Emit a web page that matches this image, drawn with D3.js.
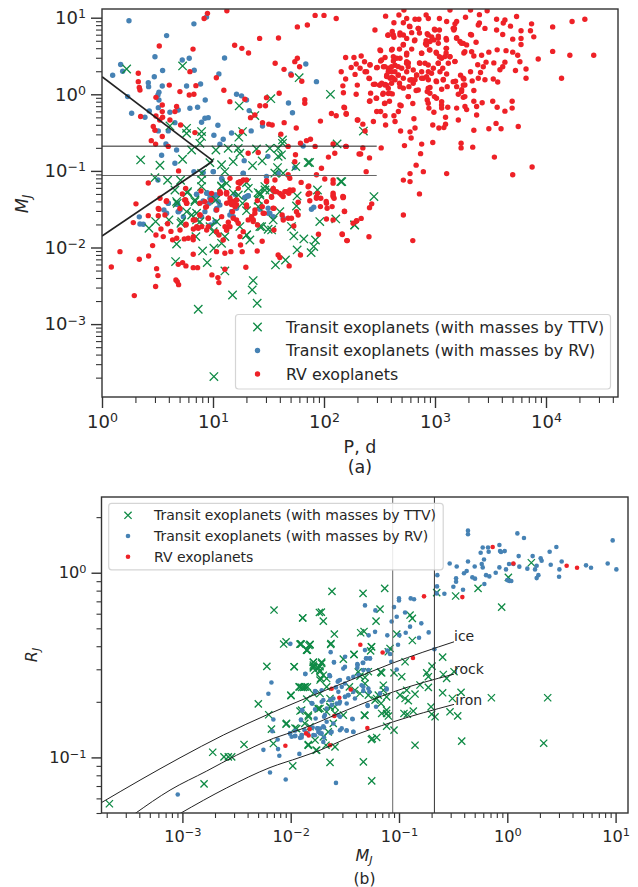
<!DOCTYPE html>
<html>
<head>
<meta charset="utf-8">
<script src="https://cdn.jsdelivr.net/npm/d3@7"></script>
<style>
  html, body { margin: 0; padding: 0; background: #fff; }
  text { font-family: "DejaVu Sans", sans-serif; fill: #262626; }
</style>
</head>
<body>
<svg id="chart" width="638" height="887"></svg>
<script>
// all planet values are [log10 x, log10 y]
const legendLabels = ['Transit exoplanets (with masses by TTV)', 'Transit exoplanets (with masses by RV)', 'RV exoplanets'];
const periodDecades = [0, 1, 2, 3, 4];
const massDecades = [-3, -2, -1, 0, 1];
const radiusDecades = [-1, 0];

// panel (a): period vs mass
const rvPeriodMass = [
[2.555,1.02],[2.675,1.035],[2.72,1.10],[2.745,.99],[2.82,.98],[2.855,.98],[2.92,1.035],[2.94,.99],[3.04,.99],[3.135,1.10],[3.32,1.10],[3.47,1.09],[3.40,1.04],[3.275,1.005],[3.555,.98],[3.63,.97],[3.735,1.015],[4.235,.95],[4.35,.98],[4.06,.88],[3.87,.92],[3.68,.89],[3.615,.93],[3.555,.84],[3.86,.83],[3.775,.83],[3.89,.75],[3.61,.78],[3.775,.73],[3.775,.65],[3.70,.72],[3.45,.86],[3.40,.93],[3.32,.78],[3.37,.68],[3.195,.95],[3.175,.86],[3.105,.95],[3.04,.84],[2.995,.85],[2.93,.79],[2.86,.80],[2.79,.805],[2.715,.935],[2.63,.935],[2.77,.89],[2.85,.86],[2.685,.80],[2.615,.82],[2.575,.77],[2.63,.745],[2.715,.775],[2.815,.70],[2.915,.66],[2.715,.65],[2.615,.59],[2.51,.57],[2.68,.59],[2.79,.59],[2.745,.535],[2.88,.535],[2.95,.58],[3.01,.55],[3.10,.60],[2.99,.71],[3.03,.665],[3.10,.54],[3.195,.74],[3.255,.665],[3.285,.645],[3.26,.54],[3.33,.555],[3.42,.51],[3.485,.55],[3.56,.58],[3.64,.57],[3.70,.55],[3.745,.51],[3.93,.46],[4.06,.56],[4.215,.51],[4.43,.51],[4.14,.21],[3.82,.33],[3.82,.21],[3.725,.31],[3.765,.425],[3.63,.42],[3.53,.41],[3.46,.42],[3.385,.385],[3.435,.36],[3.35,.50],[3.18,.43],[3.135,.49],[3.04,.49],[3.12,.405],[3.07,.34],[3.03,.405],[2.985,.34],[2.91,.405],[2.86,.41],[2.76,.41],[2.685,.47],[2.625,.49],[2.55,.48],[2.51,.435],[2.48,.35],[2.415,.385],[2.365,.425],[2.335,.50],[2.27,.48],[2.195,.48],[2.29,.395],[2.245,.35],[2.325,.34],[2.37,.295],[2.28,.26],[2.155,.295],[2.195,.20],[2.41,.205],[2.30,.12],[2.17,.11],[2.175,.02],[2.29,0],[2.42,.015],[2.445,.13],[2.50,.12],[2.55,.13],[2.53,0],[2.58,.01],[2.615,.005],[2.59,-.09],[2.545,-.12],[2.47,-.05],[2.41,-.09],[2.185,-.175],[2.20,-.26],[2.305,-.335],[2.35,-.39],[2.445,-.355],[2.475,-.225],[2.51,-.225],[2.55,-.28],[2.64,-.355],[2.555,-.40],[2.63,-.28],[2.67,-.225],[2.695,-.15],[2.81,-.32],[2.69,-.48],[2.775,-.49],[2.82,-.44],[2.785,-.57],[2.725,-.67],[2.88,-.65],[2.98,-.63],[2.98,-.40],[3.035,-.44],[3.08,-.435],[3.095,-.39],[3.095,-.30],[3.21,-.335],[3.375,-.27],[3.35,-.47],[3.485,-.45],[3.55,-.38],[3.595,-.45],[3.75,-.42],[3.695,-.09],[3.695,-.18],[3.63,-.22],[3.56,-.17],[3.52,-.09],[3.425,-.11],[3.375,-.16],[3.35,-.09],[3.27,-.16],[3.285,-.20],[3.195,-.18],[3.115,-.17],[3.06,-.18],[2.99,-.235],[2.945,-.18],[2.93,-.075],[2.995,-.03],[3.06,-.095],[2.80,-.12],[2.76,-.03],[3.24,.06],[3.255,-.04],[3.21,0],[3.35,.05],[3.195,.10],[3.185,.17],[3.255,.12],[3.26,.20],[3.23,.25],[3.335,.175],[3.32,.295],[3.41,.285],[3.39,.21],[3.45,.19],[3.525,.20],[3.565,.16],[3.585,.32],[3.61,.36],[3.11,.10],[3.06,.065],[2.955,.09],[2.93,.035],[2.83,.05],[2.765,.10],[2.715,.08],[2.68,.145],[2.82,.19],[2.895,.21],[2.94,.19],[3.01,.175],[3.075,.195],[3.105,.265],[3.045,.295],[2.94,.295],[2.88,.295],[2.835,.25],[2.79,.19],[2.535,.36],[2.58,.34],[2.64,.38],[2.70,.34],[2.565,.25],[2.61,.295],[2.67,.25],[2.745,.295],[2.595,.21],[2.64,.19],[2.715,.21],[2.52,.145],[2.565,.12],[2.61,.22],[2.625,.435],[2.745,.425],[2.515,-.70],[2.41,-.83],[2.33,-.78],[2.35,-.70],[2.20,-.68],[2.37,-.48],[2.38,-1.01],[2.175,-1.34],[2.41,-1.48],[2.43,-1.43],[2.185,-1.53],[2.335,-1.62],[2.295,-1.65],[2.165,-1.83],[2.21,-1.91],[2.405,-1.86],[2.80,-1.91],[2.715,-1.575],[2.86,-1.30],[2.775,-1.035],[2.895,-1.01],[2.715,-1.12],[2.775,-1.14],[2.83,-.925],[2.87,-.775],[3.105,-1.035],[3.235,-.64],[3.235,-.70],[3.34,-.69],[3.535,-.82],[3.70,-1.05],[3.875,-.95],[2.97,.75],[3.03,.76],[2.955,.69],[3.10,.73],[3.17,.84],[3.18,.92],[2.745,.73],[2.92,.70],[3.225,.69],[3.39,.905],
[2.519,.448],[2.549,.361],[2.579,.296],[2.609,.361],[2.639,.296],[2.669,.361],[2.564,.231],[2.624,.209],[2.669,.252],[2.609,.144],[2.549,.122],[2.504,.122],[2.459,.131],[2.579,.079],[2.684,.10],[2.744,.405],[2.759,.361],[2.654,.47],[2.804,.318],[2.834,.252],[2.879,.209],[2.924,.231],[2.969,.274],[2.939,.383],[2.864,.405],[3.014,.165],[3.074,.187],[2.774,.187],[2.804,.144],[2.939,.079],[2.954,.013],[3.014,-.052],[3.059,-.139],[3.164,.165],[3.254,.209],[3.269,.122],[3.239,.035],[3.269,-.03],[2.924,.644],[2.954,.579],[3.014,.535],[3.089,.492],[3.134,.492],[3.104,.6],[3.029,.731],[2.939,.775],[2.999,.84],[3.104,.709],[3.194,.731],[3.239,.666],[3.269,.557],[2.684,.775],[2.624,.775],[2.579,.775],[2.459,.84],[2.774,.883],[2.849,.861],[3.164,.861],[3.329,.775],[2.714,.644],[2.819,.709],[2.609,.579],[2.504,.579],[2.879,.535],[2.744,.514],[2.414,.383],[2.474,.348],[2.384,.296],[2.405,.209],[3.059,.47],[3.179,.427],[3.029,.405],[2.594,.013],[2.534,.013],[2.474,-.052],[2.414,-.087],[2.549,-.117],[2.759,-.03],[2.684,-.139],[2.939,-.117],[2.849,.057],
[.95,1.057],[.92,.99],[1.125,1.09],[1.92,1.03],[2.0,1.03],[2.11,.99],[1.76,.88],[1.85,.905],[1.42,.73],[1.59,.735],[1.195,.64],[1.26,.60],[1.32,.54],[.516,.63],[.82,.59],[1.56,.405],[1.64,.326],[1.737,.426],[1.76,.47],[1.78,.36],[1.705,.25],[1.80,.17],[.327,.274],[.327,.165],[.336,.09],[.342,.056],[.606,.12],[.792,.296],[1.03,.217],[.846,.113],[1.098,.052],[.702,.035],[.786,-.01],[.828,0],[.486,-.04],[1.152,-.096],[1.287,-.065],[1.482,-.044],[1.596,.013],[1.827,-.07],[1.827,-.117],[1.422,-.15],[1.473,-.15],[1.338,-.305],[1.377,-.27],[1.446,-.37],[1.503,-.39],[1.533,-.40],[1.641,-.37],[1.75,-.44],[1.968,-.35],[2.067,-.25],[2.11,-.28],[2.18,-.17],[2.2,-.25],[2.30,-.335],[.543,-.14],[.672,-.16],[.657,-.226],[.543,-.226],[.546,-.30],[.486,-.283],[.348,-.29],[.612,-.335],[.52,-.335],[.462,-.42],[.708,-.40],[.477,-.47],[.543,-.55],[.444,-.605],[.483,-.65],[.597,-.68],[.837,-.50],[1.257,-.487],[1.611,-.52],[1.788,-.64],[1.842,-.605],[1.878,-.587],[1.92,-.68],[2.082,-.648],[2.196,-.68],[1.677,-.68],[1.317,-.77],[1.407,-.76],[1.743,-.79],[2.097,-.77],[2.04,-.82],[2.316,-.78],[1.737,-.88],[1.977,-.966],[1.932,-1.05],[2.007,-1.105],[2.082,-1.118],[2.082,-1.16],[.69,-1.0],[.417,-1.157],[1.257,-1.14],[1.227,-1.15],[1.677,-1.05],[1.692,-1.096],[1.794,-1.15],[1.863,-1.196],[.306,-1.43],[1.866,-1.29],[1.932,-1.34],[2.082,-1.29],[2.082,-1.335],[2.17,-1.335],[1.872,-1.39],[1.971,-1.357],[2.02,-1.40],[2.073,-1.466],[1.767,-1.41],[1.662,-1.27],[1.692,-1.25],[1.722,-1.25],[1.632,-1.335],[1.557,-1.27],[1.527,-1.335],[1.482,-1.14],[1.182,-1.40],[1.167,-1.44],[1.212,-1.44],[.747,-1.38],[.762,-1.42],[.582,-1.39],[.507,-1.49],[.702,-1.49],[1.122,-1.28],[1.062,-1.27],[.942,-1.466],
[.282,-1.675],[.417,-1.584],[.522,-1.358],[.513,-1.50],[.579,-1.40],[.507,-1.584],[.567,-1.575],[.591,-1.69],[.486,-1.836],[.531,-1.758],[.552,-1.858],[.621,-1.79],[.636,-1.90],[.741,-1.888],[.777,-1.88],[.456,-1.975],[.162,-2.054],[.336,-2.154],[.42,-2.11],[.084,-2.254],[.492,-2.276],[.504,-2.367],[.483,-2.51],[.291,-2.628],[.666,-2.424],[.678,-2.445],[.69,-2.485],[.687,-2.22],[.726,-2.197],[.756,-2.24],[.822,-2.263],[.861,-2.263],[.822,-2.088],[.99,-2.358],[1.044,-2.393],[1.053,-2.458],[1.107,-2.284],[1.296,-2.258],[1.032,-2.054],[1.107,-2.076],[1.161,-2.054],[1.263,-2.054],[1.248,-1.967],[1.398,-2.045],[1.443,-1.919],[1.587,-2.097],[1.602,-2.13],[1.686,-2.24],[1.788,-2.097],[1.95,-1.828],[2.163,-1.823],[2.205,-1.91],[2.292,-1.654],[2.262,-1.684],[2.022,-1.627],[2.082,-1.64],[2.184,-1.527],[2.022,-1.423],[2.028,-1.488],[2.091,-1.358],[2.082,-1.314],[2.172,-1.349],[1.932,-1.358],[1.968,-1.466],[1.872,-1.293],[1.857,-1.206],[1.941,-1.293],[1.767,-1.575],[1.752,-1.532],[1.677,-1.619],[1.707,-1.619],[1.728,-1.72],[1.623,-1.575],[1.542,-1.488],[1.452,-1.553],[1.377,-1.553],[1.347,-1.619],[1.362,-1.662],[1.401,-1.706],[1.302,-1.445],[1.182,-1.423],[1.152,-1.401],[1.197,-1.445],[1.176,-1.532],[1.212,-1.64],[1.182,-1.619],[1.137,-1.727],[1.122,-1.771],[1.092,-1.902],[1.032,-1.793],[.957,-1.727],[.957,-1.619],[.882,-1.575],[.822,-1.64],[.747,-1.38],[.762,-1.423],[.756,-1.706],[.822,-1.90],[.882,-1.423],[.927,-1.401],[.987,-1.293],[1.062,-1.293],[1.122,-1.301],[.867,-1.75],[1.272,-1.793],[1.302,-1.118],[1.242,-1.162],[1.317,-1.64],[1.482,-1.401],[1.542,-1.249],[1.602,-1.293],[1.647,-1.27],[1.683,-1.293],[1.707,-1.258],[1.857,-1.306],
[1.183,-1.423],[1.153,-1.358],[1.198,-1.467],[1.123,-1.423],[1.213,-1.38],[.982,-1.38],[1.069,-1.293],[1.123,-1.284],[.892,-1.262],[.754,-1.228],[.724,-1.301],[.754,-1.38],[.763,-1.423],[.934,-1.475],[1.033,-1.51],[1.078,-1.597],[1.138,-1.671],[1.108,-1.728],[1.153,-1.728],[1.123,-1.771],[1.054,-1.836],[.943,-1.771],[.898,-1.728],[.853,-1.728],[.823,-1.758],[.757,-1.697],[.703,-1.771],[.823,-1.858],[.673,-1.88],[.958,-1.619],[.883,-1.576],[.838,-1.641],[1.378,-1.51],[1.348,-1.597],[1.363,-1.641],[1.444,-1.467],[1.462,-1.554],[1.303,-1.467],[1.228,-1.684],[1.549,-1.771],[1.549,-1.489],[1.483,-1.127],[1.558,-1.119],[1.543,-1.228],[1.573,-1.271],[1.618,-1.315],[1.528,-1.345],[1.399,-1.388],[1.243,-1.14],[1.273,-1.119],[1.228,-1.228],[1.153,-1.097],[1.243,-1.858],[1.633,-1.641]
];
const transitPeriodMass = [
[.243,.96],[.828,.92],[.582,.766],[.477,.49],[.723,.448],[.786,.47],[.942,1.01],[1.104,.474],[1.836,.396],[.546,.31],[.831,.313],[.168,.39],[.186,.30],[.096,.248],[.471,.23],[1.053,.265],[1.701,.265],[.417,.152],[.42,.10],[.543,.109],[.762,.109],[.888,.135],[.513,.026],[.504,-.01],[.231,-.03],[1.932,.165],[1.212,0],[1.257,-.02],[1.302,-.074],[.93,-.074],[.513,-.074],[.507,-.174],[.792,-.183],[.861,-.17],[1.68,-.113],[1.716,-.24],[1.326,-.213],[.612,-.235],[.687,-.205],[.267,-.248],[.426,-.217],[.387,-.30],[.927,-.313],[.957,-.305],[.897,-.365],[1.044,-.405],[1.446,-.413],[1.167,-.505],[1.344,-.478],[.507,-.478],[1.008,-.535],[1.092,-.587],[1.062,-.652],[.576,-.648],[.672,-.727],[.537,-.796],[1.494,-.81],[1.281,-.866],[1.812,-.674],[.657,-.90],[.828,-1.009],[1.002,-1.009],[.912,-1.022],[1.272,-1.03],[1.587,-1.03],[1.737,-.957],[.504,-1.118],[1.083,-1.118],[1.482,-1.074],[.852,-1.305],[.948,-1.283],[1.017,-1.314],[.912,-1.392],[1.302,-1.335],[1.287,-1.35],[.681,-1.423],[.597,-1.423],[.597,-.478],[.657,-.37],
[.336,-1.6],[.342,-1.693],[.372,-1.697],[.558,-1.51],[.597,-1.423],[.687,-1.532],[.678,-1.436],[.852,-1.306],[.912,-1.401],[.948,-1.293],[.966,-1.423],[1.026,-1.51],[1.002,-1.327],[.972,-1.358],[1.062,-1.445],[1.167,-1.532],[1.152,-1.575],[1.287,-1.349],[1.317,-1.327],[1.422,-1.501],[1.497,-1.488],[1.512,-1.553],[1.632,-1.619],[1.887,-1.501],[1.908,-1.475],[.978,-1.706],[.897,-1.597],[.582,-1.553],[1.212,-1.488],[.927,-1.532],
[1.003,-1.01],[1.273,-1.032],[1.078,-1.097],[1.033,-1.315],[.973,-1.315],[.943,-1.293],[1.003,-1.38],[1.048,-1.401],[1.198,-1.306],[1.288,-1.349],[1.318,-1.323],[.673,-1.436],[.703,-1.51],[.688,-1.532],[.733,-1.597],[1.168,-1.532],[1.183,-1.597],[1.033,-1.489],[1.498,-1.554],[1.543,-1.597],[1.018,-1.663]
];
const ttvPeriodMass = [
[.222,.33],[.726,.37],[1.776,.217],[2.058,0],[1.521,-.057],[1.236,-.15],[1.377,-.278],[.612,-.413],[.762,-.444],[.762,-.51],[.897,-.487],[.897,-.55],[.882,-.64],[1.266,-.487],[1.233,-.56],[1.626,-.596],[1.626,-.64],[2.118,-.648],[.348,-.857],[.522,-.926],[.726,-.848],[.807,-.727],[1.026,-.727],[1.137,-.705],[1.227,-.705],[1.242,-.77],[1.392,-.714],[1.512,-.705],[1.587,-.705],[1.617,-.79],[1.587,-.81],[1.443,-.87],[1.356,-.93],[1.182,-.88],[1.857,-.89],[1.87,-.89],[1.746,-.944],[1.581,-.957],[1.557,-1.03],[1.632,-1.03],[1.077,-.92],[1.107,-1.009],[.972,-.892],[.477,-1.088],[.591,-1.122],[.708,-1.122],[.897,-1.118],[.897,-1.205],[1.077,-1.196],[1.182,-1.29],[1.302,-1.153],[1.467,-1.205],[1.407,-1.283],[1.407,-1.38],[2.151,-1.14],[1.941,-1.249],[1.758,-1.327],[.657,-1.249],[.771,-1.27],[.837,-1.40],[.672,-1.40],[1.026,-1.379],[1.266,-1.423],
[.768,-1.284],[1.422,-1.293],[1.752,-1.458],[1.302,-1.519],[.762,-1.532],[.852,-1.553],[.678,-1.423],[.603,-1.64],[.483,-1.662],[.423,-1.749],[.711,-1.684],[.846,-1.858],[.852,-1.64],[1.002,-1.793],[1.107,-1.858],[1.242,-1.727],[1.302,-1.836],[1.332,-1.902],[1.422,-1.727],[1.497,-1.762],[1.542,-1.64],[1.602,-1.532],[1.707,-1.727],[1.728,-1.849],[1.818,-1.888],[1.923,-1.902],[1.908,-1.988],[1.884,-2.067],[1.758,-2.032],[1.962,-1.662],[2.106,-1.627],[2.277,-1.706],[.672,-1.954],[.906,-2.045],[1.008,-2.01],[1.077,-1.945],[.663,-2.184],[.948,-2.197],[1.107,-2.306],[1.362,-2.432],[1.353,-2.554],[1.176,-2.62],[1.398,-2.728],[.867,-2.806],[1.008,-3.685],[1.563,-2.228],[1.653,-2.163],[1.512,-1.249],
[2.355,-.48],[2.45,-1.335],[2.275,-1.705],[2.16,-1.14],
[.898,-1.032],[1.078,-1.206],[1.123,-1.162],[1.318,-1.228],[1.468,-1.249],[1.423,-1.315],[.838,-1.38],[.808,-1.576],[.883,-1.663],[1.033,-1.663],[.973,-1.728],[1.303,-1.836],[1.438,-1.728],[1.528,-1.771],[1.228,-1.315],[1.408,-1.467],[.718,-1.663]
];
// straight guides of panel (a), [log10 P, log10 M]
const upperWedge = [[0, .23], [1, -.87]];
const lowerWedge = [[0, -1.85], [1, -.87]];
const massLimits = [-.677, -1.06];
const massLimitEndPeriod = 2.475;

// panel (b): mass vs radius
const ttvMassRadius = [
[-3.674,-1.251],[-2.80,-1.143],[-2.72,-.972],[-2.616,-.997],[-2.576,-.997],[-2.545,-.997],[-2.431,-.93],[-2.299,-.71],[-2.203,-.769],[-2.22,-.507],[-2.154,-.202],[-2.065,-.386],[-2.043,-.374],[-1.969,-.509],[-1.889,-.245],[-1.908,-.385],[-1.821,-.39],[-1.846,-.419],[-1.791,-.486],[-1.791,-.515],[-1.745,-.515],[-1.735,-.215],[-1.729,-.581],[-1.923,-.618],[-1.883,-.621],[-1.846,-.618],[-1.997,-.666],[-1.852,-.684],[-1.791,-.654],[-1.914,-.749],[-1.837,-.771],[-1.745,-.738],[-2.043,-.82],[-1.96,-.841],[-1.87,-.816],[-2.178,-.847],[-2.16,-.925],[-1.837,-.93],[-1.775,-.906],[-1.76,-.961],[-1.981,-1.046],
[-1.619,-.101],[-1.332,-.112],[-1.132,-.085],[-1.717,-.213],[-1.889,-.245],[-1.699,-.262],[-1.175,-.197],[-1.212,-.262],[-.898,-.229],[-.877,-.247],[-.652,-.108],[-.477,-.126],[-.27,-.085],[-.052,-.186],[.01,-.025],[.222,.054],[-1.597,-.332],[-1.354,-.325],[-1.323,-.318],[-1.021,-.332],[-.877,-.367],[-1.631,-.388],[-1.902,-.386],[-1.822,-.388],[-1.852,-.419],[-1.255,-.401],[-1.083,-.41],[-1.415,-.442],[-1.514,-.468],[-1.791,-.484],[-1.714,-.484],[-1.791,-.509],[-1.729,-.509],[-1.729,-.536],[-1.723,-.572],[-.944,-.482],[-.597,-.457],[-.695,-.506],[-1.169,-.538],[-1.046,-.542],[-.975,-.563],[-.744,-.542],[-.729,-.563],[-.591,-.551],[-.56,-.572],[-.492,-.536],[-.729,-.621],[-.806,-.608],[-.597,-.65],[-.427,-.648],[-.147,-.677],[.373,-.677],[-.507,-.681],[-.852,-.657],[-.929,-.636],[-.991,-.663],[-.944,-.681],[-.914,-.693],[-1.144,-.636],[-1.191,-.663],[-1.221,-.69],[-1.36,-.654],[-1.458,-.618],[-1.283,-.536],[-1.36,-.56],[-1.314,-.567],[-1.166,-.708],[-1.114,-.744],[-1.16,-.762],[-1.098,-.776],[-1.314,-.773],[-1.514,-.771],[-1.591,-.762],[-1.637,-.726],[-1.745,-.735],[-1.837,-.78],[-1.729,-.654],[-1.868,-.618],[-1.899,-.621],[-.954,-.762],[-.923,-.766],[-.868,-.749],[-.704,-.726],[-.698,-.766],[-.667,-.78],[-.529,-.753],[-.458,-.775],[-1.114,-.831],[-1.046,-.852],[-1.255,-.903],[-1.206,-.892],[-.852,-.934],[-.421,-.912],[.336,-.923],[-1.329,-1.024],[-1.637,-1.027],[-1.252,-1.127],[-1.766,-.961],[-1.837,-.934],[-1.674,-.934],
[-1.915,-.387],[-1.831,-.394],[-1.853,-.419],[-1.628,-.383],[-1.416,-.443],[-1.253,-.401],[-1.262,-.423],[-1.099,-.428],[-1.967,-.509],[-1.791,-.5],[-1.714,-.491],[-1.776,-.528],[-1.73,-.528],[-1.699,-.555],[-1.668,-.573],[-1.376,-.537],[-1.915,-.618],[-1.868,-.618],[-1.998,-.663],[-1.668,-.618],[-1.314,-.6],[-1.16,-.542],[-1.145,-.609],[-1.637,-.681],[-1.407,-.636],[-1.283,-.663],[-1.207,-.681],[-1.114,-.672],[-1.637,-.726],[-1.591,-.726],[-1.668,-.753],[-1.73,-.735],[-1.899,-.744],[-1.32,-.771],[-1.114,-.762],[-1.607,-.816],[-2.038,-.816],[-1.945,-.844],[-1.822,-.834],[-1.653,-.862],[-1.838,-.934],[-1.699,-.889],[-1.247,-.898],[-1.591,-.943]
];
const transitMassRadius = [
[-3.043,-1.201],[-2.191,-1.082],[-2.046,-1.12],[-2.105,-.991],[-2.252,-.959],[-1.92,-.981],[-2.117,-.955],[-2.12,-.903],[-2.169,-.858],[-2.16,-.795],[-2.206,-.655],[-2.178,-.594],[-2.003,-.385],[-1.865,-.549],[-1.775,-.641],[-1.80,-.708],[-1.895,-.746],[-1.905,-.798],[-1.775,-.74],[-2.006,-.87],[-1.991,-.888],[-1.957,-.883],[-1.96,-.856],[-1.914,-.894],[-1.898,-.879],[-1.874,-.852],[-1.797,-.838],[-1.754,-.843],[-1.791,-.879],[-1.729,-.87],
[-.363,.228],[-.363,.208],[.093,.213],[.154,.188],[-.073,.15],[-.227,.137],[-.178,.137],[-.246,.108],[-.172,.114],[-.067,.117],[-.058,.112],[-.024,.117],[-.215,.072],[-.236,.047],[-.227,.029],[-.363,.061],[-.301,.034],[-.532,.05],[-.467,.034],[-.375,.009],[-.40,-.003],[-.646,-.013],[-.473,-.03],[-.473,-.049],[-.323,-.025],[-.298,-.032],[-.196,-.013],[-.166,-.02],[-.107,0],[-.073,.029],[-.012,.018],[.016,.047],[.056,.047],[.111,.033],[.105,.09],[.185,.022],[.234,.09],[.256,.018],[.271,.038],[.308,.078],[.317,.065],[.391,.114],[.453,.139],[.401,.043],[.481,.018],[.502,.061],[.478,-.022],[.271,-.029],[.287,-.013],[.727,.04],[.773,.027],[.927,.05],[.973,.175],[1.007,.018],[0,-.04],[.019,-.045],[.037,-.045],[-.212,-.061],[-.498,-.076],[-.649,-.074],[-.409,-.092],[-.581,-.114],[-.652,-.112],[-1.0,-.139],[-1.0,-.15],[-.892,-.139],[-.861,-.144],[-1.314,-.177],[-1.046,-.186],[-1.218,-.204],[-.944,-.215],[-1.021,-.238],[-1.068,-.264],[-.794,-.274],[-.898,-.292],[-1.221,-.32],[-.726,-.323],[-.938,-.325],[-.997,-.338],[-1.108,-.339],[-1.28,-.339],[-.815,-.352],[-1.009,-.39],[-.673,-.414],[-1.108,-.422],[-1.083,-.44],[-1.071,-.482],[-1.021,-.524],[-1.631,-.43],[-1.498,-.455],[-1.60,-.486],[-1.305,-.464],[-1.268,-.464],[-1.335,-.488],[-1.385,-.495],[-1.385,-.515],[-1.283,-.527],[-1.329,-.527],[-1.865,-.547],[-1.643,-.554],[-1.545,-.581],[-1.566,-.59],[-1.468,-.572],[-1.375,-.554],[-1.529,-.618],[-1.582,-.621],[-1.56,-.645],[-1.498,-.672],[-1.468,-.663],[-1.606,-.681],[-1.637,-.69],[-1.551,-.708],[-1.483,-.708],[-1.421,-.645],[-1.329,-.618],[-1.274,-.645],[-1.175,-.654],[-1.114,-.632],[-1.212,-.726],[-1.289,-.722],[-1.803,-.708],[-1.714,-.699],[-1.896,-.744],[-1.668,-.735],[-1.692,-.78],[-1.431,-.791],[-1.545,-.78],[-1.606,-.816],[-1.529,-.843],[-1.483,-.856],[-1.421,-.861],[-1.692,-.838],[-1.714,-.87],[-1.754,-.843],[-1.631,-.867],[-1.692,-.892],[-1.899,-.879],[-1.843,-.87],[-1.582,-1.138],
[-1.601,-.484],[-1.499,-.51],[-1.514,-.519],[-1.382,-.5],[-1.33,-.488],[-1.299,-.464],[-1.268,-.464],[-1.314,-.419],[-1.637,-.56],[-1.56,-.585],[-1.499,-.6],[-1.422,-.564],[-1.345,-.609],[-1.33,-.64],[-1.283,-.627],[-1.176,-.654],[-1.114,-.627],[-1.77,-.645],[-1.714,-.636],[-1.576,-.708],[-1.545,-.699],[-1.499,-.672],[-1.468,-.663],[-1.407,-.681],[-1.699,-.69],[-1.807,-.705],[-1.622,-.717],[-1.29,-.717],[-1.428,-.793],[-1.561,-.771],[-1.905,-.795],[-1.77,-.789],[-1.893,-.744],[-1.684,-.771],[-1.699,-.831],[-1.668,-.807],[-1.73,-.844],[-1.622,-.862],[-1.545,-.853],[-1.484,-.853],[-1.422,-.862],[-2.007,-.871],[-1.961,-.885],[-1.899,-.892],[-1.776,-.88],[-1.745,-.862],[-1.699,-.916]
];
const rvMassRadius = [
[-2.049,-.937],[-1.858,-.87],[-1.834,-.881],[-1.825,-.847],[-.769,-.128],[-.415,-.132],[-.135,.139],[.056,.05],[.548,.038],[.644,.027],[-1.357,-.39],[-1.151,-.432],[-.871,-.462],[-1.622,-.628],[-1.446,-.632],[-1.551,-.677],[-1.597,-.776],[-1.292,-.841],[-1.637,-.934]
];
const iceCurve = [[-3.745,-1.244],[-3.391,-1.123],[-3.022,-1.002],[-2.622,-.879],[-2.206,-.766],[-1.914,-.693],[-1.483,-.59],[-1.067,-.491],[-.492,-.374]];
const rockCurve = [[-3.437,-1.304],[-3.114,-1.177],[-2.776,-1.074],[-2.499,-.988],[-2.16,-.897],[-1.914,-.849],[-1.483,-.744],[-1.052,-.645],[-.492,-.549]];
const ironCurve = [[-3.022,-1.304],[-2.591,-1.165],[-2.191,-1.055],[-1.914,-1.0],[-1.729,-.961],[-1.483,-.897],[-1.052,-.807],[-.492,-.713]];
const curveNames = [['ice', -.492, -.345], ['rock', -.492, -.52], ['iron', -.48, -.69]];
const massCuts = [-1.058, -.673];

const ink = '#333333';
const red = '#ee2127';
const blue = '#4682b4';
const green = '#0f8a45';
const lift = d => Math.pow(10, d);

const svg = d3.select('#chart');

// log ticks: major labelled decades plus 2..9 minors inside the domain
function minors(domain) {
  const lo = Math.min(...domain), hi = Math.max(...domain), out = [];
  for (let e = Math.floor(Math.log10(lo)); e <= Math.ceil(Math.log10(hi)); e++) {
    for (let k = 2; k < 10; k++) {
      const v = k * Math.pow(10, e);
      if (v >= lo && v <= hi) out.push(v);
    }
  }
  return out;
}

function powerLabel(sel, size) {
  sel.each(function (d) {
    const e = Math.round(Math.log10(d));
    const t = d3.select(this).text('').style('font-size', size + 'px').attr('fill', null);
    t.append('tspan').text('10');
    t.append('tspan').text(String(e).replace('-', '\u2212'))
      .attr('dy', '-0.45em').style('font-size', (size * 0.7) + 'px');
  });
}

function drawPanel(o) {
  const g = svg.append('g');
  const id = o.id + '-clip';
  svg.append('defs').append('clipPath').attr('id', id).append('rect')
    .attr('x', o.x.range()[0]).attr('y', o.y.range()[1])
    .attr('width', o.x.range()[1] - o.x.range()[0])
    .attr('height', o.y.range()[0] - o.y.range()[1]);
  const plot = g.append('g').attr('clip-path', `url(#${id})`);

  const axes = g.append('g');
  const bottom = o.y.range()[0], left = o.x.range()[0];
  const style = a => {
    a.selectAll('path.domain').remove();
    a.selectAll('line').attr('stroke', ink).attr('stroke-width', 1.1);
  };
  axes.append('g').attr('transform', `translate(0,${bottom})`)
    .call(d3.axisBottom(o.x).tickValues(minors(o.x.domain())).tickSize(o.minorSize).tickFormat('')).call(style);
  axes.append('g').attr('transform', `translate(${left},0)`)
    .call(d3.axisLeft(o.y).tickValues(minors(o.y.domain())).tickSize(o.minorSize).tickFormat('')).call(style);
  const xMajor = axes.append('g').attr('transform', `translate(0,${bottom})`)
    .call(d3.axisBottom(o.x).tickValues(o.xTicks.map(lift)).tickSize(o.majorSize).tickPadding(7)).call(style);
  xMajor.selectAll('line').attr('stroke-width', 1.4);
  xMajor.selectAll('text').call(powerLabel, o.tickFont);
  const yMajor = axes.append('g').attr('transform', `translate(${left},0)`)
    .call(d3.axisLeft(o.y).tickValues(o.yTicks.map(lift)).tickSize(o.majorSize).tickPadding(5)).call(style);
  yMajor.selectAll('line').attr('stroke-width', 1.4);
  yMajor.selectAll('text').call(powerLabel, o.tickFont);

  return { g, plot };
}

function crosses(layer, data, x, y, r) {
  const s = layer.append('g').attr('stroke', green).attr('stroke-width', 1.3).attr('fill', 'none');
  s.selectAll('path').data(data).join('path')
    .attr('d', d => {
      const px = x(lift(d[0])), py = y(lift(d[1]));
      return `M${px - r},${py - r}L${px + r},${py + r}M${px - r},${py + r}L${px + r},${py - r}`;
    });
}

function dots(layer, data, x, y, r, color) {
  layer.append('g').selectAll('circle').data(data).join('circle')
    .attr('cx', d => x(lift(d[0]))).attr('cy', d => y(lift(d[1])))
    .attr('r', r).attr('fill', color);
}

function frame(panel, x, y) {
  panel.g.append('rect')
    .attr('x', x.range()[0]).attr('y', y.range()[1])
    .attr('width', x.range()[1] - x.range()[0]).attr('height', y.range()[0] - y.range()[1])
    .attr('fill', 'none').attr('stroke', ink).attr('stroke-width', 1.4);
}

function legend(panel, o) {
  const l = panel.g.append('g');
  l.append('rect').attr('x', o.left).attr('y', o.top).attr('width', o.width).attr('height', o.height)
    .attr('rx', 3).attr('fill', '#fff').attr('fill-opacity', 0.85).attr('stroke', '#d5d5d5').attr('stroke-width', 1.2);
  legendLabels.forEach((name, i) => {
    const cy = o.top + o.first + i * o.step;
    const r = o.cross;
    if (i === 0) {
      l.append('path').attr('d', `M${o.markX - r},${cy - r}L${o.markX + r},${cy + r}M${o.markX - r},${cy + r}L${o.markX + r},${cy - r}`)
        .attr('stroke', green).attr('stroke-width', 1.3).attr('fill', 'none');
    } else {
      l.append('circle').attr('cx', o.markX).attr('cy', cy).attr('r', o.dot).attr('fill', i === 1 ? blue : red);
    }
    l.append('text').attr('x', o.textX).attr('y', cy).attr('dy', '0.36em')
      .style('font-size', o.font + 'px').text(name);
  });
}

function subLabel(sel, x, y, size, base, sub) {
  const t = sel.append('text').attr('x', x).attr('y', y).attr('text-anchor', 'middle').style('font-size', size + 'px');
  t.append('tspan').style('font-style', 'italic').text(base);
  t.append('tspan').style('font-style', 'italic').style('font-size', (size * 0.7) + 'px').attr('dy', '0.25em').text(sub);
  return t;
}

// ---------- panel (a) ----------
const xa = d3.scaleLog().domain([1, Math.pow(10, 516 / 111)]).range([102, 618]);
const ya = d3.scaleLog().domain([Math.pow(10, -(397 - 94.3) / 76.6), Math.pow(10, (94.3 - 9) / 76.6)]).range([397, 9]);
const panelA = drawPanel({ id: 'a', x: xa, y: ya, xTicks: periodDecades, yTicks: [-3, -2, -1, 0, 1], majorSize: 11, minorSize: 6, tickFont: 18 });

dots(panelA.plot, transitPeriodMass, xa, ya, 2.7, blue);
crosses(panelA.plot, ttvPeriodMass, xa, ya, 4.2);
dots(panelA.plot, rvPeriodMass, xa, ya, 2.7, red);

massLimits.forEach((m, i) => {
  panelA.plot.append('line')
    .attr('x1', xa(1)).attr('x2', xa(lift(massLimitEndPeriod)))
    .attr('y1', ya(lift(m))).attr('y2', ya(lift(m)))
    .attr('stroke', i === 0 ? '#222' : '#666').attr('stroke-width', 1);
});
const wedgeLine = d3.line().x(d => xa(lift(d[0]))).y(d => ya(lift(d[1])));
[upperWedge, lowerWedge].forEach(w => {
  panelA.plot.append('path').attr('d', wedgeLine(w)).attr('fill', 'none').attr('stroke', '#222').attr('stroke-width', 1.7);
});
frame(panelA, xa, ya);
legend(panelA, { left: 235.5, top: 314.5, width: 375, height: 74.5, first: 12.5, step: 23.5, markX: 257.5, textX: 286, font: 15.8, cross: 4.2, dot: 2.7 });

panelA.g.append('text').attr('x', 360).attr('y', 453).attr('text-anchor', 'middle').style('font-size', '17.5px').text('P, d');
panelA.g.append('text').attr('x', 360).attr('y', 473).attr('text-anchor', 'middle').style('font-size', '17.5px').text('(a)');
subLabel(panelA.g, 0, 0, 17.5, 'M', 'J').attr('transform', 'translate(28,204) rotate(-90)');

// ---------- panel (b) ----------
const xb = d3.scaleLog().domain([Math.pow(10, -1 + (101.5 - 399) / 108.3), Math.pow(10, -1 + (628 - 399) / 108.3)]).range([101.5, 628]);
const yb = d3.scaleLog().domain([0.05, Math.pow(10, (572.7 - 497) / 184.6)]).range([813, 497]);
const panelB = drawPanel({ id: 'b', x: xb, y: yb, xTicks: massDecades, yTicks: radiusDecades, majorSize: 10, minorSize: 5, tickFont: 16.2 });

crosses(panelB.plot, ttvMassRadius, xb, yb, 3.6);
dots(panelB.plot, transitMassRadius, xb, yb, 2.3, blue);
dots(panelB.plot, rvMassRadius, xb, yb, 2.3, red);

const curveLine = d3.line().x(d => xb(lift(d[0]))).y(d => yb(lift(d[1]))).curve(d3.curveMonotoneX);
[iceCurve, rockCurve, ironCurve].forEach(c => {
  panelB.plot.append('path').attr('d', curveLine(c)).attr('fill', 'none').attr('stroke', '#222').attr('stroke-width', 1);
});
massCuts.forEach((m, i) => {
  panelB.plot.append('line')
    .attr('x1', xb(lift(m))).attr('x2', xb(lift(m)))
    .attr('y1', yb.range()[0]).attr('y2', yb.range()[1])
    .attr('stroke', i === 0 ? '#666' : '#333').attr('stroke-width', 1);
});
curveNames.forEach(c => {
  panelB.plot.append('text').attr('x', xb(lift(c[1]))).attr('y', yb(lift(c[2]))).attr('dy', '0.36em')
    .style('font-size', '14px').text(c[0]);
});
frame(panelB, xb, yb);
legend(panelB, { left: 108.7, top: 503.3, width: 334.5, height: 66.5, first: 12, step: 20.7, markX: 128, textX: 154, font: 14, cross: 3.6, dot: 2.3 });

subLabel(panelB.g, 0, 0, 16, 'M', 'J').attr('transform', 'translate(364,861)');
panelB.g.append('text').attr('x', 364.5).attr('y', 884).attr('text-anchor', 'middle').style('font-size', '15.5px').text('(b)');
subLabel(panelB.g, 0, 0, 16, 'R', 'J').attr('transform', 'translate(37,655) rotate(-90)');
</script>
</body>
</html>
